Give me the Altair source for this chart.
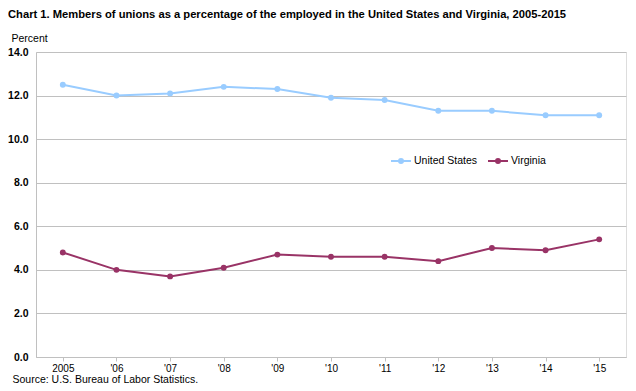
import altair as alt
import pandas as pd

years = ["2005", "'06", "'07", "'08", "'09", "'10", "'11", "'12", "'13", "'14", "'15"]
us_values = [12.5, 12.0, 12.1, 12.4, 12.3, 11.9, 11.8, 11.3, 11.3, 11.1, 11.1]
va_values = [4.8, 4.0, 3.7, 4.1, 4.7, 4.6, 4.6, 4.4, 5.0, 4.9, 5.4]
series = ["United States", "Virginia"]
colors = ["#99CCFF", "#993366"]

rows = []
for y, v in zip(years, us_values):
    rows.append({"year": y, "series": series[0], "value": v})
for y, v in zip(years, va_values):
    rows.append({"year": y, "series": series[1], "value": v})
df = pd.DataFrame(rows)

FONT = "Liberation Sans"

x_enc = alt.X(
    "year:O",
    sort=years,
    scale=alt.Scale(type="point", padding=0.5),
    axis=alt.Axis(
        title="Source: U.S. Bureau of Labor Statistics.",
        titleX=-24, titleY=25, titleAlign="left", titleBaseline="alphabetic",
        titleFontWeight="normal", titleFontSize=10.5, titleFont=FONT, titleColor="#000000",
        labelAngle=0, labelFontSize=10, labelFont=FONT, labelColor="#000000",
        tickSize=4, tickColor="#c0c0c0", domainColor="#c0c0c0",
        labelPadding=2, grid=False,
    ),
)
y_enc = alt.Y(
    "value:Q",
    scale=alt.Scale(domain=[0, 14]),
    axis=alt.Axis(
        title="Percent",
        titleAngle=0, titleX=-25, titleY=-11, titleAlign="left", titleBaseline="alphabetic",
        titleFontWeight="normal", titleFontSize=10.5, titleFont=FONT, titleColor="#000000",
        values=[0, 2, 4, 6, 8, 10, 12, 14], format=".1f",
        labelFontSize=10.5, labelFontWeight="bold", labelFont=FONT, labelColor="#000000",
        ticks=False, labelPadding=8, domainColor="#c0c0c0",
        grid=True, gridColor="#c0c0c0",
    ),
)
color_enc = alt.Color(
    "series:N",
    scale=alt.Scale(domain=series, range=colors),
    legend=alt.Legend(
        title=None, orient="none", legendX=354, legendY=98, direction="horizontal",
        symbolType="M-1,0H1M-0.2,0A0.2,0.2 0 1,1 0.2,0A0.2,0.2 0 1,1 -0.2,0",
        symbolSize=400, symbolStrokeWidth=2,
        labelFontSize=10.5, labelFont=FONT, labelColor="#000000", labelOffset=2,
        columnPadding=6, padding=0,
    ),
)

base = alt.Chart(df).encode(x=x_enc, y=y_enc, color=color_enc)
lines = base.mark_line(strokeWidth=2)
points = base.mark_point(filled=True, size=35, opacity=1)

chart = alt.layer(lines, points).properties(
    width=590,
    height=305,
    title=alt.TitleParams(
        "Chart 1. Members of unions as a percentage of the employed in the United States and Virginia, 2005-2015",
        anchor="start", frame="group", dx=-28, fontSize=11.2, font=FONT, fontWeight="bold",
        color="#000000", offset=13,
    ),
    autosize=alt.AutoSizeParams(type="none"),
    padding={"left": 28, "top": 44, "right": 2, "bottom": 26},
).configure_view(stroke="#c0c0c0", strokeWidth=1).configure(background="white")

chart.save("out.html", embed_options={"renderer": "svg", "actions": False})
